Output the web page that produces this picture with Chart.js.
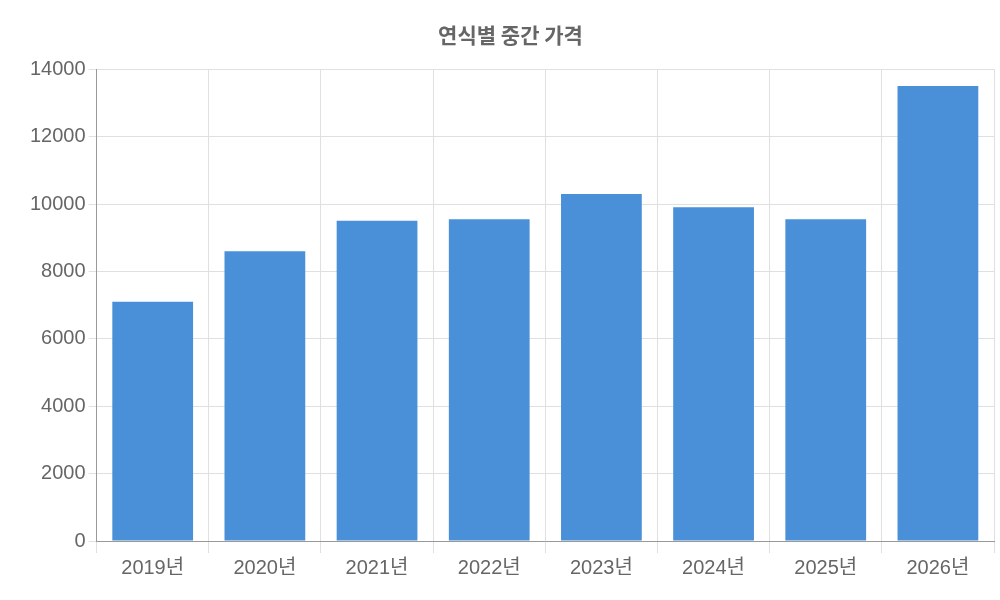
<!DOCTYPE html>
<html><head><meta charset="utf-8">
<script src="https://cdn.jsdelivr.net/npm/chart.js@4"></script>
<style>html,body{margin:0;padding:0;background:#fff}#w{width:1000px;height:600px}</style>
</head><body><div id="w"><canvas id="c"></canvas></div>
<script>
const categories = ["2019년","2020년","2021년","2022년","2023년","2024년","2025년","2026년"];
const values = [7100, 8600, 9500, 9550, 10300, 9900, 9550, 13500];
Chart.defaults.font.family = "'Liberation Sans', 'Noto Sans CJK KR', sans-serif";
new Chart(document.getElementById('c'), {
  type: 'bar',
  data: { labels: categories, datasets: [{ data: values, backgroundColor: '#4A90D9' }] },
  options: {
    responsive: true, maintainAspectRatio: false, animation: false,
    layout: { padding: { left: 27, right: 6, bottom: 17 } },
    plugins: {
      legend: { display: false },
      title: { display: true, text: '연식별 중간 가격', color: '#666', font: { size: 21, weight: 'bold', family: "'Noto Sans CJK KR', sans-serif" }, padding: { top: 22, bottom: 22 } }
    },
    scales: {
      x: { grid: { color: '#e0e0e0', tickLength: 12, offset: true }, border: { color: '#999' }, ticks: { color: '#666', font: { size: 20 } } },
      y: { min: 0, max: 14000, grid: { color: '#e0e0e0', tickLength: 8 }, border: { color: '#999' }, ticks: { stepSize: 2000, color: '#666', font: { size: 20 }, callback: v => String(v) } }
    }
  }
});
</script></body></html>
